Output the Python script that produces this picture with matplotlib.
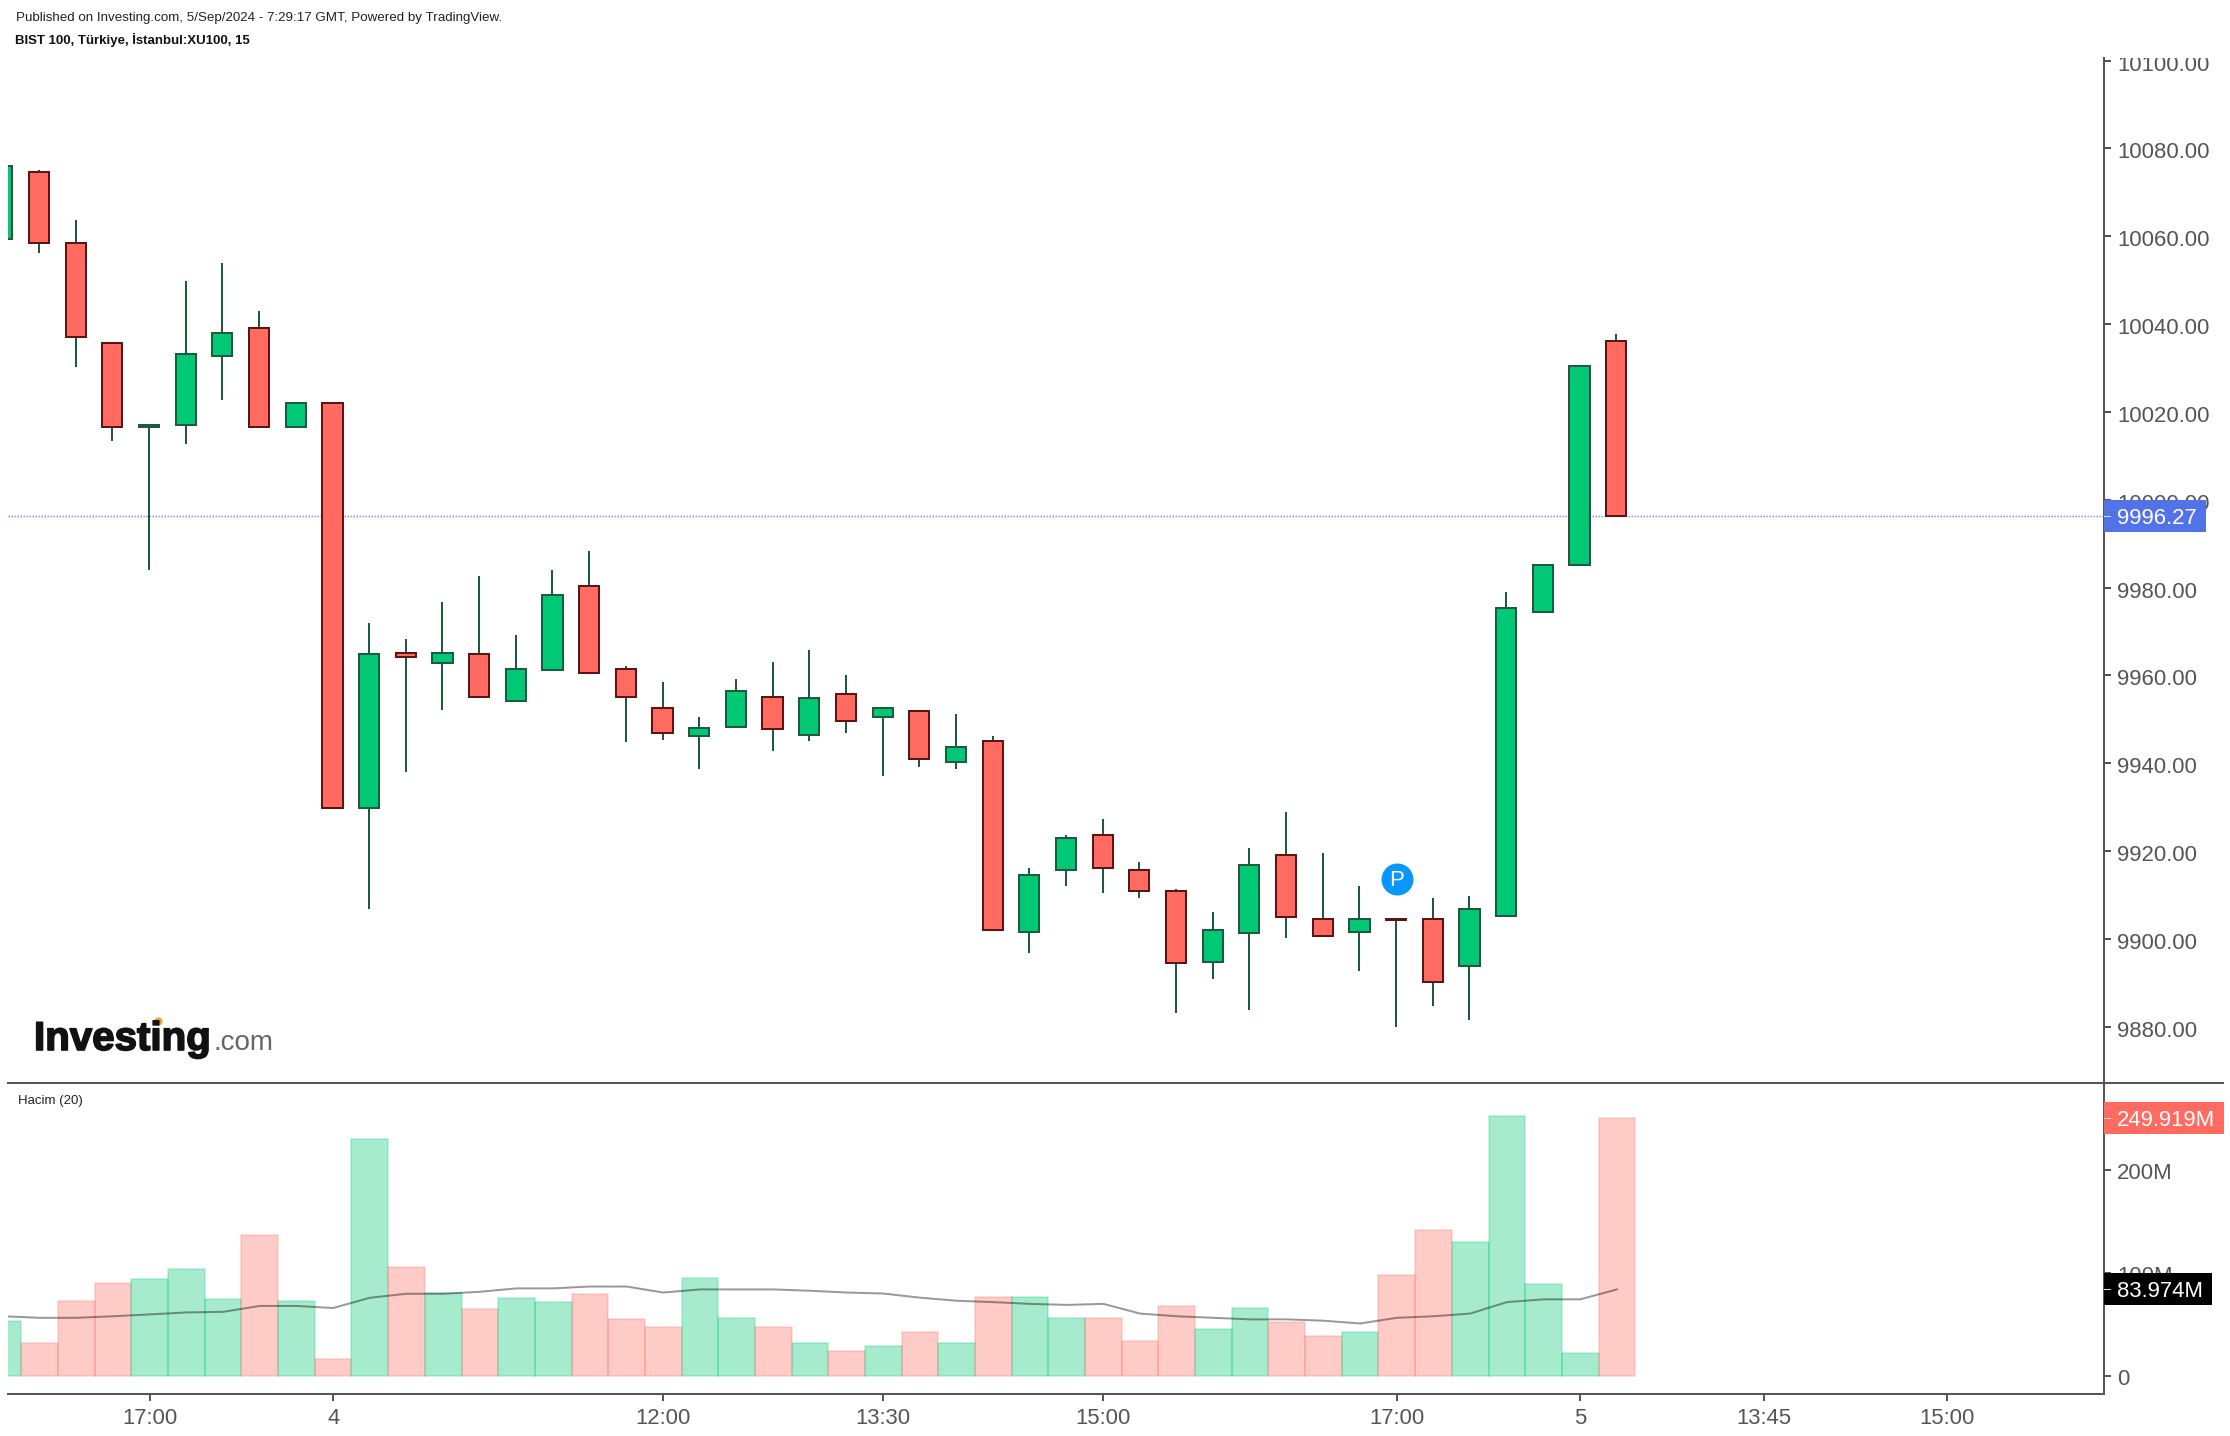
import matplotlib
matplotlib.use('Agg')
import matplotlib.pyplot as plt
import matplotlib.patheffects as pe
from matplotlib.lines import Line2D
from matplotlib.patches import Rectangle
from matplotlib.transforms import ScaledTranslation, blended_transform_factory

plt.rcParams['font.family'] = ['Liberation Sans', 'DejaVu Sans']

# candles
opens = [10059.4, 10074.6, 10058.4, 10035.7, 10016.6, 10016.9, 10032.8, 10039.0, 10016.6, 10022.1,
         9929.8, 9965.1, 9962.8, 9964.8, 9954.2, 9961.2, 9980.3, 9961.5, 9952.5, 9946.1,
         9948.3, 9955.1, 9946.4, 9955.8, 9950.6, 9951.9, 9940.2, 9945.1, 9901.6, 9915.6,
         9923.7, 9915.6, 9911.0, 9894.8, 9901.3, 9919.1, 9904.6, 9901.6, 9904.6, 9904.6,
         9893.9, 9905.2, 9974.5, 9985.2, 10036.1]
closes = [10075.9, 10058.4, 10037.0, 10016.6, 10016.9, 10033.1, 10038.0, 10016.6, 10022.1, 9929.8,
          9964.8, 9964.1, 9965.1, 9955.1, 9961.5, 9978.4, 9960.5, 9955.1, 9947.0, 9948.0,
          9956.4, 9947.7, 9954.8, 9949.6, 9952.5, 9940.9, 9943.8, 9902.0, 9914.6, 9923.0,
          9916.2, 9911.0, 9894.5, 9902.0, 9916.9, 9904.9, 9900.7, 9904.6, 9904.2, 9890.3,
          9906.8, 9975.4, 9985.2, 10030.5, 9996.27]
highs = [10075.9, 10075.0, 10063.6, 10035.7, 10016.9, 10049.7, 10053.9, 10042.9, 10022.1, 10022.1,
         9971.9, 9968.3, 9976.7, 9982.6, 9969.3, 9983.9, 9988.4, 9962.2, 9958.4, 9950.6,
         9959.2, 9963.1, 9965.7, 9960.2, 9952.5, 9951.9, 9951.2, 9946.1, 9916.2, 9923.7,
         9927.2, 9917.5, 9911.4, 9906.2, 9920.8, 9928.9, 9919.5, 9912.0, 9904.6, 9909.4,
         9909.7, 9979.0, 9985.2, 10030.5, 10037.7]
lows = [10059.4, 10056.2, 10030.2, 10013.4, 9983.9, 10012.7, 10022.8, 10016.6, 10016.6, 9929.8,
        9906.8, 9937.9, 9952.2, 9955.1, 9954.2, 9961.2, 9960.5, 9944.8, 9945.4, 9938.6,
        9948.3, 9942.8, 9945.1, 9947.0, 9937.0, 9939.2, 9938.6, 9902.0, 9896.8, 9912.0,
        9910.4, 9909.4, 9883.2, 9890.9, 9883.8, 9900.3, 9900.7, 9892.6, 9879.9, 9884.8,
        9881.5, 9905.2, 9974.5, 9985.2, 9996.27]

# volume in millions and its 20 period average
volumes = [53, 31.7, 72.4, 89.8, 93.7, 103.4, 74.3, 136.3, 72.4, 16.2,
           229.3, 105.3, 80.1, 64.9, 75.8, 71.7, 80, 55, 48, 95,
           56.5, 48, 31.7, 24.8, 29, 42.7, 31.7, 77, 77, 56.5,
           56.5, 34.5, 67.5, 45.5, 66, 52, 38.6, 42.7, 97.8, 142,
           129.5, 251.5, 89.6, 22, 249.919]
vol_ma = [58, 56.5, 56.5, 58, 59.8, 61.7, 62.3, 68, 68, 66,
          75.9, 79.8, 79.8, 81.7, 85, 85, 86.8, 86.8, 81, 84,
          84, 84, 82.7, 81, 80, 76, 73, 71.7, 70, 69,
          70, 60.6, 58, 56.5, 55, 55, 53.7, 51, 56.5, 58,
          60.6, 71.7, 74.4, 74.4, 83.974]

price_ticks = [10100, 10080, 10060, 10040, 10020, 10000, 9980, 9960, 9940, 9920, 9900, 9880]
vol_ticks = [0, 100, 200]
vol_tick_labels = ['0', '100M', '200M']
x_ticks = [4, 9, 18, 24, 30, 38, 43, 48, 53]
x_tick_labels = ['17:00', '4', '12:00', '13:30', '15:00', '17:00', '5', '13:45', '15:00']
last_price = 9996.27
last_volume = 249.919
last_ma = 83.974

GREEN = '#00C875'
RED = '#FF6A61'
GREEN_EDGE = '#1E5A3E'
RED_EDGE = '#5C1414'
AXIS = '#555555'
W, H = 2230, 1436

fig = plt.figure(figsize=(W / 100, H / 100), dpi=100, facecolor='white')


def pane(top, bottom):
    return fig.add_axes([8 / W, 1 - bottom / H, (2104 - 8) / W, (bottom - top) / H])


ax = pane(58, 1083)
ax_vol = pane(1083, 1393.5)
n = len(opens)
xs = list(range(n))
px = 1 / 1.3889  # 1 px in points

# wicks first, bodies on top
ax.vlines(xs, lows, highs, color=GREEN_EDGE, lw=2 * px, zorder=2)
for i in xs:
    up = closes[i] >= opens[i]
    ax.bar(i, abs(closes[i] - opens[i]), width=0.55, bottom=min(opens[i], closes[i]),
           color=GREEN if up else RED, edgecolor=GREEN_EDGE if up else RED_EDGE,
           linewidth=2 * px, zorder=3)

ax.set_xlim(0.155, 57.3)
ax.set_ylim(9867.2, 10100.57)
ax.axhline(last_price, color='#5273E8', alpha=0.75, lw=1.5 * px, ls=(0, (1, 1)), zorder=1)
ax.plot([38.02], [9913.6], marker='o', ms=32 * px, color='#0A96FF', mew=0, zorder=5, ls='none')
ax.text(38.02, 9913.3, 'P', color='white', fontsize=16, ha='center', va='center', zorder=6)

ax.set_xticks([])
ax.set_yticks(price_ticks)
ax.set_yticklabels(['%.2f' % t for t in price_ticks])

for i in xs:
    up = closes[i] >= opens[i]
    rgb = matplotlib.colors.to_rgb(GREEN if up else RED)
    ax_vol.bar(i, volumes[i], width=1.0, color=rgb + (0.35,), edgecolor=rgb + (0.2,),
               linewidth=2 * px, zorder=2)
ax_vol.plot(xs, vol_ma, color='black', alpha=0.4, lw=2 * px, zorder=3)
ax_vol.set_xlim(0.135, 57.28)
ax_vol.set_ylim(-16.8, 283.9)
ax_vol.set_xticks(x_ticks)
ax_vol.set_xticklabels(x_tick_labels)
ax_vol.set_yticks(vol_ticks)
ax_vol.set_yticklabels(vol_tick_labels)

for a in (ax, ax_vol):
    a.yaxis.tick_right()
    a.spines['left'].set_visible(False)
    a.spines['top'].set_visible(False)
    a.spines['bottom'].set_visible(a is ax_vol)
    for s in a.spines.values():
        s.set_linewidth(2 * px)
        s.set_color(AXIS)
    a.tick_params(axis='both', length=7 * px, width=2 * px, color=AXIS, labelcolor=AXIS,
                  labelsize=15.9, pad=6 * px)
ax_vol.tick_params(axis='x', pad=8 * px)

# labels sit a little under their ticks
for a, drop in ((ax, 2), (ax_vol, 1)):
    shift = ScaledTranslation(0, -drop / 100, fig.dpi_scale_trans)
    for lab in a.get_yticklabels():
        lab.set_transform(lab.get_transform() + shift)


def tag(a, value, text, color, width_px):
    tr = blended_transform_factory(a.transAxes, a.transData)
    h = 32 / (a.bbox.height / (a.get_ylim()[1] - a.get_ylim()[0]))
    a.add_patch(Rectangle((1, value - h / 2), width_px / 2096, h, transform=tr, color=color,
                          clip_on=False, zorder=10, lw=0))
    a.plot([1, 1 + 6 / 2096], [value, value], transform=tr, color='#dddddd', lw=1 * px,
           clip_on=False, zorder=11)
    a.text(1 + 13 / 2096, value, text, transform=tr, color='white', fontsize=15.9,
           va='center_baseline', ha='left', clip_on=False, zorder=12)


tag(ax, last_price, '%.2f' % last_price, '#5273E8', 102)
tag(ax_vol, last_volume, '%.3fM' % last_volume, RED, 120)
tag(ax_vol, last_ma, '%.3fM' % last_ma, 'black', 108)

# line between the panes runs on past the axis
fig.add_artist(Line2D([8 / W, 2223 / W], [1 - 1083 / H, 1 - 1083 / H], color=AXIS, lw=2 * px))

# header strip cuts the top price label
fig.add_artist(Rectangle((2106 / W, 1 - 58 / H), 124 / W, 58 / H, color='white', lw=0, zorder=5))

fig.text(16 / W, 1 - 18 / H, 'Published on Investing.com, 5/Sep/2024 - 7:29:17 GMT, Powered by TradingView.',
         fontsize=9.6, color='#222222', va='center')
fig.text(15 / W, 1 - 40 / H, 'BIST 100, Türkiye, İstanbul:XU100, 15', fontsize=9.5, fontweight='bold',
         color='#111111', va='center')
fig.text(18 / W, 1 - 1101 / H, 'Hacim (20)', fontsize=9.5, color='#222222', va='center')

# logo
fig.text(34 / W, 1 - 1050 / H, 'Investing', fontsize=29, fontweight='bold', color='#111111', va='baseline',
         path_effects=[pe.withStroke(linewidth=1.2, foreground='#111111')])
fig.text(213 / W, 1 - 1050 / H, '.com', fontsize=20, color='#666666', va='baseline')
fig.add_artist(Line2D([158 / W], [1 - 1021 / H], marker='o', ms=8 * px, color='#F7A11A', mew=0, ls='none'))

fig.savefig('out.png', dpi=100, facecolor='white')
